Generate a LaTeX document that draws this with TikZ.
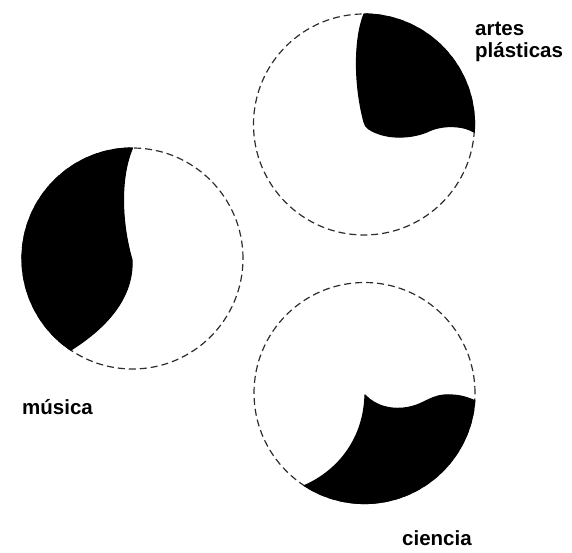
\documentclass[tikz,border=0pt]{standalone}
\usepackage{fontspec}
\setmainfont{Liberation Sans}
\usetikzlibrary{positioning}
\definecolor{rim}{RGB}{45, 45, 45}

\begin{document}
\begin{tikzpicture}[
    x=1pt, y=1pt,
    circ/.style  = {circle, draw=rim, line width=1.2pt, dash pattern=on 7pt off 4pt,
                    minimum size=221pt, inner sep=0pt, outer sep=0pt},
    blob/.style  = {fill=black, draw=black, line width=1.2pt, line join=round},
    lbl/.style   = {font=\fontsize{20.5}{22}\selectfont\bfseries, align=left, inner sep=0pt},
  ]
    \useasboundingbox (0,0) rectangle (572,552);

    % --- circles ---
    \node[circ] (artes)   at (364, 427.5) {};
    \node[circ] (musica)  at (132.5, 293.5) {};
    \node[circ] (ciencia) at (364.5, 159) {};

    % artes plasticas
    \begin{scope}[shift={(artes.center)}]
      \filldraw[blob] (90:110.5) arc[start angle=90, end angle=-4, radius=110.5]
        .. controls (100,-1) and (80,0) .. (66,-6)
        .. controls (52,-13) and (30,-15) .. (14,-9)
        .. controls (6,-6) and (1,-3) .. (0,2.5)
        .. controls (-10,40) and (-10,85) .. (90:110.5) -- cycle;
    \end{scope}

    % musica
    \begin{scope}[shift={(musica.center)}]
      \filldraw[blob] (90:110.5) arc[start angle=90, end angle=236, radius=110.5]
        .. controls (-25,-68.5) and (1,-38.5) .. (-0.5,-1.5)
        .. controls (-11.5,36.5) and (-12.5,81.5) .. (90:110.5) -- cycle;
    \end{scope}

    % ciencia
    \begin{scope}[shift={(ciencia.center)}]
      \filldraw[blob] (0.5,-2)
        .. controls (10.5,-13) and (27.5,-18) .. (45.5,-14)
        .. controls (60.5,-11) and (67.5,-1) .. (85.5,-2)
        .. controls (96,-2) and (104,-5) .. (-4:110.5)
        arc[start angle=-4, end angle=-123, radius=110.5]
        .. controls (-24.5,-77) and (-0.5,-44) .. (0.5,-2) -- cycle;
    \end{scope}

    % --- labels ---
    \node[lbl, anchor=base west] (lartes)   at (475, 494) {artes\\plásticas};
    \node[lbl, anchor=base west] (lmusica)  at (22, 138)  {música};
    \node[lbl, anchor=base west] (lciencia) at (402, 7)   {ciencia};

  \end{tikzpicture}
\end{document}
